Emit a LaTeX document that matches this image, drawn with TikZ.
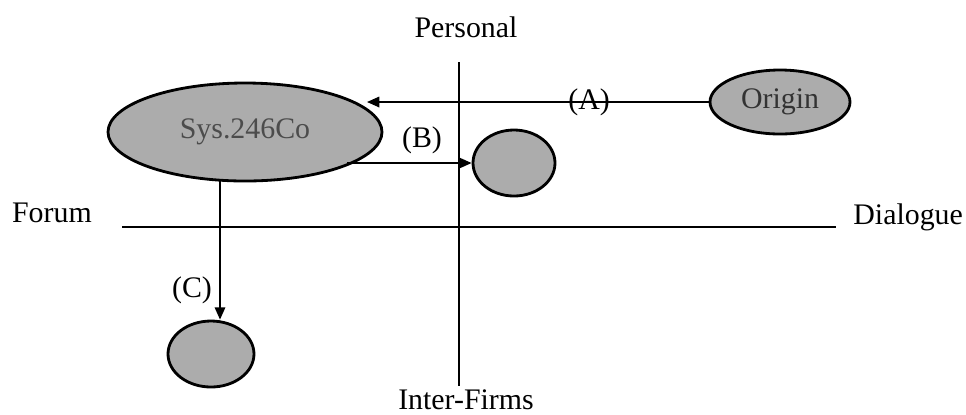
\documentclass[tikz,border=0pt]{standalone}
\usepackage{fontspec}
\setmainfont{Liberation Serif}
\usetikzlibrary{arrows.meta, positioning, shapes.geometric}
\tikzset{
    mapbase/.style={font=\fontsize{17}{20}\selectfont, >={Triangle[length=7pt, width=6pt]}},
    firm/.style={ellipse, draw, line width=1.6pt, fill=gray!65, inner sep=0pt, text=black!70, align=center},
    axislabel/.style={inner sep=1pt},
    axis/.style={draw, line width=0.9pt},
    line/.style={draw, ->, line width=0.9pt},
    steplabel/.style={inner sep=1pt},
}

\begin{document}
\begin{tikzpicture}[mapbase, x=0.02cm, y=-0.02cm]
\useasboundingbox (0,0) rectangle (966,414);

% ===================== AXES =====================
\node[axislabel] (a_top) at (466,27) {Personal};
\node[axislabel] (a_bot) at (466,400) {Inter-Firms};
\node[axislabel, anchor=west] (a_left) at (10,213) {Forum};
\node[axislabel, anchor=east] (a_right) at (965,217) {Dialogue};
\coordinate (v_top) at (459,62);
\coordinate (v_bot) at (459,386);
\coordinate (h_left) at (122,227);
\coordinate (h_right) at (836,227);
\draw[axis] (v_top) -- (v_bot);
\draw[axis] (h_left) -- (h_right);

% ===================== FIRMS =====================
\node[firm, minimum width=274*0.02cm, minimum height=98*0.02cm] (f_main) at (245,132) {Sys.246Co};
\node[firm, minimum width=140*0.02cm, minimum height=64*0.02cm, text=black!80] (f_origin) at (780,102) {Origin};
\node[firm, minimum width=82*0.02cm, minimum height=66*0.02cm] (f_dial) at (514,163) {};
\node[firm, minimum width=86*0.02cm, minimum height=66*0.02cm] (f_forum) at (211,354) {};

% ===================== MOVES =====================
\coordinate (m_a) at (367,102);
\draw[line] (f_origin.west) -- node[steplabel, pos=0.35]{(A)} (m_a);
\coordinate (m_b) at (347,163);
\draw[line] (m_b) -- (f_dial.west);
\node[steplabel] (l_b) at (422,140) {(B)};
\coordinate (m_c) at (220,181);
\draw[line] (m_c) -- (m_c |- f_forum.north);
\node[steplabel] (l_c) at (192,290) {(C)};

\end{tikzpicture}
\end{document}
